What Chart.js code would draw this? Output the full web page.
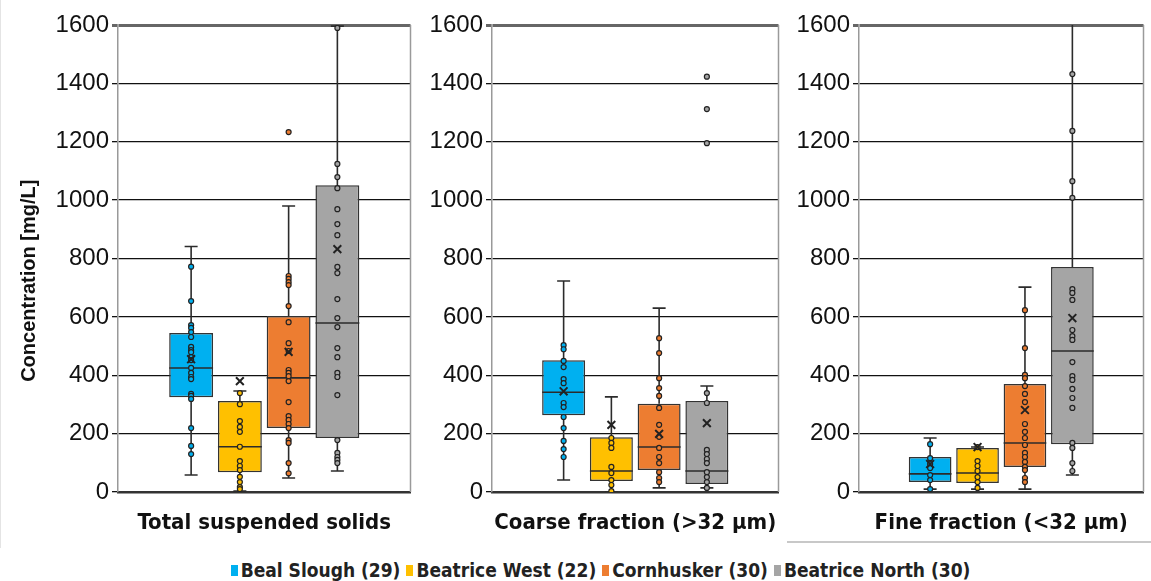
<!DOCTYPE html>
<html>
<head>
<meta charset="utf-8">
<script src="https://cdn.jsdelivr.net/npm/chart.js@4.4.1/dist/chart.umd.min.js"></script>
<style>
  body { margin: 0; background: #fff; width: 1151px; height: 581px; position: relative; overflow: hidden; }
  .panel { position: absolute; top: 0; height: 548px; }
  #p1 { left: 0; width: 418px; border-left: 1px solid #e4e4e4; box-sizing: border-box; }
  #p2 { left: 418px; width: 368px; }
  #p3 { left: 786px; width: 365px; }
  #p3line { position: absolute; left: 787px; top: 541px; width: 364px; height: 2px; background: #c8c8c8; }
  #legend { position: absolute; left: 50px; top: 559px; width: 1101px; display: flex; justify-content: center; gap: 6px;
            font: bold 19px "Liberation Sans Narrow", "DejaVu Sans Condensed", sans-serif; color: #222; }
  #legend span.sw { display: inline-block; width: 7px; height: 11px; margin-right: 3px; vertical-align: 1px; }
</style>
</head>
<body>
<div class="panel" id="p1"><canvas id="tssChart"></canvas></div>
<div class="panel" id="p2"><canvas id="coarseChart"></canvas></div>
<div class="panel" id="p3"><canvas id="fineChart"></canvas></div>
<div id="p3line"></div>
<div id="legend"></div>
<script>
const sites = ['Beal Slough', 'Beatrice West', 'Cornhusker', 'Beatrice North'];
const siteCounts = [29, 22, 30, 30];
const siteColors = ['#00B0F0', '#FFC000', '#ED7D31', '#A5A5A5'];
const panelTitles = ['Total suspended solids', 'Coarse fraction (>32 µm)', 'Fine fraction (<32 µm)'];

// Total suspended solids
const tssLow    = [58, 3, 48, 72];
const tssQ1     = [325, 68, 219, 185];
const tssMedian = [425, 155, 391, 579];
const tssQ3     = [545, 312, 603, 1051];
const tssHigh   = [841, 346, 980, 1596];
const tssMean   = [455, 380, 480, 832];
const tssPoints = [
  [772, 654, 572, 562, 548, 531, 497, 486, 479, 462, 452, 425, 408, 394, 387, 336, 329, 319, 219, 158, 130],
  [339, 301, 243, 223, 206, 155, 106, 89, 75, 52, 34, 17, 10],
  [1233, 740, 730, 719, 709, 637, 582, 510, 483, 418, 408, 397, 380, 308, 260, 247, 233, 219, 178, 168, 99, 64],
  [1590, 1124, 1079, 1041, 969, 918, 880, 771, 750, 661, 596, 565, 493, 462, 408, 394, 332, 178, 134, 120, 110, 99]
];

// Coarse fraction
const coarseLow    = [41, 0, 14, 14];
const coarseQ1     = [263, 38, 75, 27];
const coarseMedian = [342, 72, 154, 72];
const coarseQ3     = [451, 188, 302, 312];
const coarseHigh   = [723, 326, 630, 363];
const coarseMean   = [345, 230, 199, 236];
const coarsePoints = [
  [503, 489, 449, 428, 387, 373, 305, 291, 257, 219, 175, 147, 120],
  [185, 168, 151, 86, 65, 41, 24, 3],
  [527, 476, 390, 356, 329, 288, 230, 189, 151, 120, 99, 68, 48, 34],
  [1423, 1312, 1195, 339, 305, 144, 130, 113, 99, 68, 51, 34, 14]
];

// Fine fraction
const fineLow    = [10, 10, 10, 58];
const fineQ1     = [34, 31, 86, 164];
const fineMedian = [62, 65, 168, 483];
const fineQ3     = [120, 151, 370, 771];
const fineHigh   = [185, 154, 702, 1650];
const fineMean   = [96, 154, 281, 596];
const finePoints = [
  [164, 116, 96, 82, 58, 41, 10],
  [154, 106, 89, 72, 51, 34, 14],
  [623, 493, 401, 390, 363, 336, 308, 233, 206, 185, 161, 134, 120, 103, 86, 75, 48, 34],
  [1432, 1237, 1065, 1008, 695, 682, 658, 555, 534, 521, 445, 397, 384, 353, 322, 288, 168, 151, 99, 72]
];

const yTicks = [0, 200, 400, 600, 800, 1000, 1200, 1400, 1600];

// whiskers, caps, medians and the right frame line
const boxWhiskers = {
  id: 'boxWhiskers',
  beforeDatasetsDraw(chart) {
    const { ctx, chartArea } = chart;
    ctx.save();
    ctx.strokeStyle = '#9a9a9a';
    ctx.lineWidth = 1.5;
    ctx.beginPath();
    ctx.moveTo(chartArea.right, chartArea.top);
    ctx.lineTo(chartArea.right, chartArea.bottom);
    ctx.stroke();
    ctx.restore();
  },
  afterDatasetDraw(chart, args) {
    if (args.meta.type !== 'bar') return;
    const st = chart.data.datasets[args.index].stats;
    const { ctx, chartArea } = chart;
    const y = chart.scales.y;
    ctx.save();
    ctx.beginPath();
    ctx.rect(chartArea.left, chartArea.top, chartArea.width, chartArea.height);
    ctx.clip();
    ctx.strokeStyle = '#2b2b2b';
    ctx.lineWidth = 1.6;
    args.meta.data.forEach((bar, i) => {
      const x = bar.x, half = bar.width / 2, cap = 6.5;
      const seg = (x1, y1, x2, y2) => { ctx.beginPath(); ctx.moveTo(x1, y1); ctx.lineTo(x2, y2); ctx.stroke(); };
      const yMed = y.getPixelForValue(st.median[i]);
      seg(x - half, yMed, x + half, yMed);
      const yQ1 = y.getPixelForValue(st.q1[i]), yQ3 = y.getPixelForValue(st.q3[i]);
      const yLo = y.getPixelForValue(st.low[i]), yHi = y.getPixelForValue(st.high[i]);
      seg(x, yQ3, x, yHi); seg(x - cap, yHi, x + cap, yHi);
      seg(x, yQ1, x, yLo); seg(x - cap, yLo, x + cap, yLo);
    });
    ctx.restore();
  }
};

function makeChart(id, title, low, q1, median, q3, high, mean, points, yWidth, padLeft, padRight, showYTitle) {
  const datasets = [];
  datasets.push({
    type: 'scatter',
    label: 'Mean',
    data: mean.map((v, i) => ({ x: i + 1, y: v })),
    pointStyle: 'crossRot',
    pointRadius: 5.5,
    borderColor: '#222',
    borderWidth: 2,
    order: 0
  });
  points.forEach((vals, i) => {
    datasets.push({
      type: 'scatter',
      label: sites[i],
      data: vals.map(v => ({ x: i + 1, y: v })),
      pointRadius: 2.5,
      backgroundColor: siteColors[i],
      borderColor: '#222',
      borderWidth: 1.2,
      order: 1
    });
  });
  datasets.push({
    type: 'bar',
    label: 'box',
    data: q1.map((v, i) => ({ x: i + 1, y: [v, q3[i]] })),
    stats: { low, q1, median, q3, high },
    backgroundColor: siteColors,
    borderColor: '#333',
    borderWidth: 1.5,
    borderSkipped: false,
    barPercentage: 0.9,
    categoryPercentage: 1,
    order: 3
  });

  return new Chart(document.getElementById(id).getContext('2d'), {
    type: 'bar',
    data: { datasets },
    plugins: [boxWhiskers],
    options: {
      responsive: true,
      maintainAspectRatio: false,
      animation: false,
      layout: { padding: { top: 25, left: padLeft, right: padRight, bottom: 6 } },
      plugins: { legend: { display: false }, tooltip: { enabled: false } },
      scales: {
        x: {
          type: 'linear',
          min: -0.5,
          max: 5.5,
          offset: false,
          grid: { display: false },
          border: { display: true, color: '#333', width: 2.5 },
          ticks: { display: false },
          title: {
            display: true,
            text: title,
            color: '#111',
            font: { family: '"Liberation Sans Narrow", "DejaVu Sans Condensed", sans-serif', size: 22, weight: 'bold' },
            padding: { top: 0, bottom: 6 }
          },
          afterFit: s => { s.height = 50; }
        },
        y: {
          min: 0,
          max: 1600,
          afterBuildTicks: s => { s.ticks = yTicks.map(v => ({ value: v })); },
          ticks: {
            color: '#111',
            padding: 3,
            font: { family: '"Liberation Sans", Arial, sans-serif', size: 24 },
            callback: v => String(v)
          },
          grid: {
            color: c => c.tick.value === 1600 ? '#666' : '#111',
            lineWidth: c => c.tick.value === 1600 ? 3 : 1.3,
            tickLength: 6
          },
          border: { display: true, color: '#999', width: 1.5 },
          title: {
            display: showYTitle,
            // trailing spaces push the rotated text a little lower, as in the original
            text: 'Concentration [mg/L]' + '\u00A0'.repeat(8),
            color: '#111',
            font: { family: '"Liberation Sans", Arial, sans-serif', size: 20, weight: 'bold' },
            padding: { top: 12, bottom: 0 }
          },
          afterFit: s => { s.width = yWidth; }
        }
      }
    }
  });
}

makeChart('tssChart', panelTitles[0], tssLow, tssQ1, tssMedian, tssQ3, tssHigh, tssMean, tssPoints, 113, 4, 6, true);
makeChart('coarseChart', panelTitles[1], coarseLow, coarseQ1, coarseMedian, coarseQ3, coarseHigh, coarseMean, coarsePoints, 74, 0, 6, false);
makeChart('fineChart', panelTitles[2], fineLow, fineQ1, fineMedian, fineQ3, fineHigh, fineMean, finePoints, 73, 0, 3, false);

const legend = document.getElementById('legend');
sites.forEach((s, i) => {
  const item = document.createElement('div');
  item.innerHTML = '<span class="sw" style="background:' + siteColors[i] + '"></span>' + s + ' (' + siteCounts[i] + ')';
  legend.appendChild(item);
});
</script>
</body>
</html>
